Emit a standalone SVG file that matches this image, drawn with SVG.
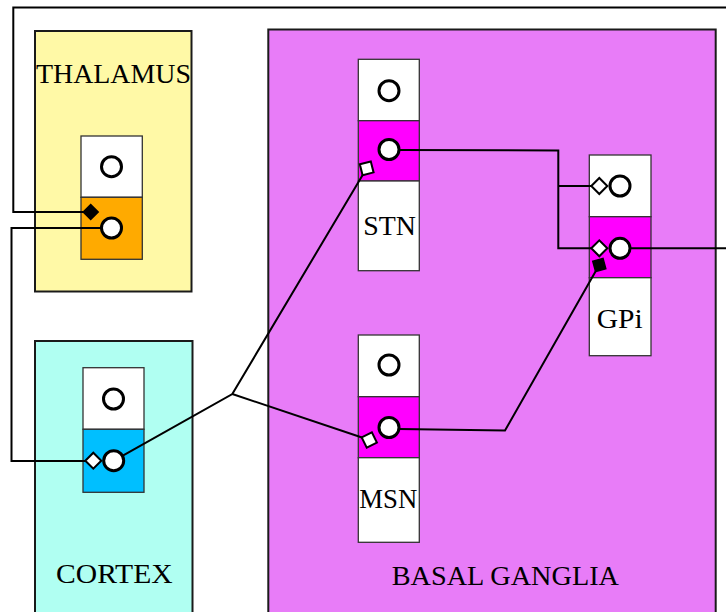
<svg xmlns="http://www.w3.org/2000/svg" width="726" height="612" viewBox="0 0 726 612">
<style>
.region{stroke:#1a1a1a;stroke-width:2}
.cell{stroke:#333;stroke-width:1.3}
.lbl{font-family:"Liberation Serif","DejaVu Serif",serif;font-size:27px;fill:#000}
.soma{fill:#fff;stroke:#000;stroke-width:3}
.wire{fill:none;stroke:#000;stroke-width:2;stroke-linejoin:miter}
.syn-open{fill:#fff;stroke:#000;stroke-width:2}
.syn-fill{fill:#000;stroke:#000;stroke-width:1.5}
</style>
<defs>
<polygon id="dia" points="-8,0 0,-8 8,0 0,8"/>
<polygon id="diaS" points="-7.5,0 0,-7.5 7.5,0 0,7.5"/>
</defs>
<rect width="726" height="612" fill="#fff"/>

<g id="thalamus">
<rect class="region" x="35" y="31" width="156.5" height="260.5" fill="#FFF9A6"/>
<text class="lbl" x="36" y="82.7" textLength="155" lengthAdjust="spacingAndGlyphs">THALAMUS</text>
</g>
<g id="cortex">
<rect class="region" x="35" y="341" width="157.5" height="290" fill="#B0FFF2"/>
<text class="lbl" x="56" y="583.3" textLength="116.7" lengthAdjust="spacingAndGlyphs">CORTEX</text>
</g>
<g id="basal-ganglia">
<rect class="region" x="268.3" y="29.5" width="447.4" height="600" fill="#E87CF8"/>
<text class="lbl" x="391.7" y="585" textLength="227.3" lengthAdjust="spacingAndGlyphs">BASAL GANGLIA</text>
</g>

<g id="thalamus-neuron">
<rect class="cell" x="81" y="136" width="61.3" height="61.3" fill="#fff"/>
<rect class="cell" x="81" y="197.3" width="61.3" height="62" fill="#FFAA00"/>
<circle class="soma" cx="111.5" cy="166.7" r="10"/>
<circle class="soma" cx="111.5" cy="228" r="10"/>
</g>
<g id="cortex-neuron">
<rect class="cell" x="83" y="367.7" width="61" height="61.6" fill="#fff"/>
<rect class="cell" x="83" y="429.3" width="61" height="63" fill="#00BFFF"/>
<circle class="soma" cx="113.5" cy="399" r="10"/>
<circle class="soma" cx="113.7" cy="460.7" r="10"/>
</g>
<g id="stn">
<rect class="cell" x="358.3" y="59.3" width="61" height="61.4" fill="#fff"/>
<rect class="cell" x="358.3" y="120.7" width="61" height="60.3" fill="#FF00FF"/>
<rect class="cell" x="358.3" y="181" width="61" height="89.7" fill="#fff"/>
<circle class="soma" cx="389" cy="90.7" r="10"/>
<circle class="soma" cx="389" cy="149.5" r="10"/>
<text class="lbl" x="363.3" y="235" textLength="52.7" lengthAdjust="spacingAndGlyphs">STN</text>
</g>
<g id="msn">
<rect class="cell" x="358.3" y="335" width="61" height="61.7" fill="#fff"/>
<rect class="cell" x="358.3" y="396.7" width="61" height="61" fill="#FF00FF"/>
<rect class="cell" x="358.3" y="457.7" width="61" height="84.6" fill="#fff"/>
<circle class="soma" cx="389" cy="365" r="10"/>
<circle class="soma" cx="389" cy="427.5" r="10"/>
<text class="lbl" x="359.3" y="508.3" textLength="58" lengthAdjust="spacingAndGlyphs">MSN</text>
</g>
<g id="gpi">
<rect class="cell" x="589.3" y="155" width="61.7" height="61.7" fill="#fff"/>
<rect class="cell" x="589.3" y="216.7" width="61.7" height="61" fill="#FF00FF"/>
<rect class="cell" x="589.3" y="277.7" width="61.7" height="78" fill="#fff"/>
<circle class="soma" cx="620" cy="186" r="10"/>
<circle class="soma" cx="620" cy="248.3" r="10"/>
<text class="lbl" x="596.7" y="328.3" textLength="46" lengthAdjust="spacingAndGlyphs">GPi</text>
</g>

<g id="connectors">
<polyline class="wire" points="726,7.5 13.3,7.5 13.3,212 83,212"/>
<polyline class="wire" points="101.5,228 11.5,228 11.5,461 85,461"/>
<polyline class="wire" points="122.4,455.8 232.3,394 363.1,174.3"/>
<polyline class="wire" points="232.3,394 362.7,437.8"/>
<polyline class="wire" points="399,150 558.3,150.5 558.3,248.3 591,248.3"/>
<polyline class="wire" points="558.3,186 591,186"/>
<polyline class="wire" points="630,248.3 726,248.3"/>
<polyline class="wire" points="399,429 505,430.5 595.8,271.1"/>
<use href="#diaS" class="syn-fill" transform="translate(90.7,212)"/>
<use href="#dia" class="syn-open" transform="translate(93.3,460.7)"/>
<use href="#dia" class="syn-open" transform="translate(366.7,168.3) rotate(-59.2)"/>
<use href="#dia" class="syn-open" transform="translate(369.3,440) rotate(18.6)"/>
<use href="#dia" class="syn-open" transform="translate(599.3,186)"/>
<use href="#dia" class="syn-open" transform="translate(599.3,248.3)"/>
<use href="#diaS" class="syn-fill" transform="translate(599.3,265) rotate(-60.3)"/>
</g>
</svg>
